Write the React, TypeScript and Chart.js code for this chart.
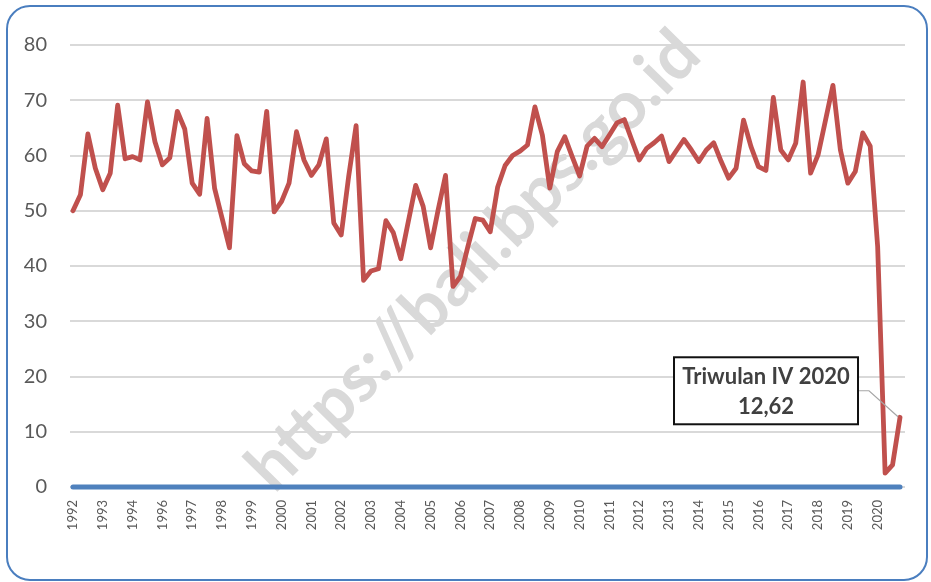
import React, { useEffect, useRef } from "react";
import { Chart, registerables } from "chart.js";

Chart.register(...registerables);

// Year labels shown under the first quarter of each year (1995 is not shown in the source)
const yearLabels = [
  "1992", "1993", "1994", "1996", "1997", "1998", "1999", "2000", "2001", "2002",
  "2003", "2004", "2005", "2006", "2007", "2008", "2009", "2010", "2011", "2012",
  "2013", "2014", "2015", "2016", "2017", "2018", "2019", "2020",
];

// Quarterly values (4 per labelled year)
const values1992to1999 = [
  50.0, 52.9, 63.9, 57.7, 53.8, 56.8, 69.1, 59.4, 59.8, 59.2, 69.7, 62.5, 58.3, 59.6,
  68.0, 64.8, 55.0, 53.0, 66.7, 54.1, 48.7, 43.3, 63.6, 58.5, 57.2, 57.0, 68.0, 49.8,
];
const values2000to2006 = [
  51.7, 55.0, 64.3, 59.2, 56.4, 58.3, 63.0, 47.8, 45.6, 56.2, 65.4, 37.4, 39.1, 39.5,
  48.2, 46.0, 41.3, 48.0, 54.6, 50.8, 43.3, 50.1, 56.4, 36.3, 38.1, 43.5, 48.6, 48.3,
];
const values2007to2013 = [
  46.2, 54.3, 58.2, 60.0, 60.8, 61.9, 68.8, 63.7, 54.1, 60.7, 63.4, 59.8, 56.3, 61.7,
  63.1, 61.6, 63.7, 65.9, 66.5, 62.8, 59.2, 61.3, 62.3, 63.5, 58.9, 60.9, 62.9, 61.0,
];
const values2014to2020 = [
  58.9, 61.0, 62.3, 58.9, 55.9, 57.7, 66.4, 61.6, 58.0, 57.3, 70.5, 61.0, 59.2, 62.2,
  73.3, 56.8, 60.1, 66.4, 72.7, 61.0, 55.0, 57.1, 64.1, 61.7, 43.5, 2.5, 4.0, 12.62,
];

const allValues = [
  ...values1992to1999,
  ...values2000to2006,
  ...values2007to2013,
  ...values2014to2020,
];

// Zero reference series (blue baseline)
const baselineValues = allValues.map(() => 0);

const yTicks = { min: 0, max: 80, step: 10 };
const calloutTitle = "Triwulan IV 2020";
const watermarkText = "https://bali.bps.go.id";

const FONT = "Lato, 'Liberation Sans', sans-serif";

export default function App() {
  const canvasRef = useRef<HTMLCanvasElement | null>(null);

  useEffect(() => {
    const canvas = canvasRef.current;
    if (!canvas) return;

    const watermarkPlugin = {
      id: "watermark",
      beforeDatasetsDraw(chart: any) {
        const { ctx, chartArea } = chart;
        const cx = (chartArea.left + chartArea.right) / 2 - 14;
        const cy = (chartArea.top + chartArea.bottom) / 2 - 5;
        ctx.save();
        ctx.translate(cx, cy);
        ctx.rotate((-45.5 * Math.PI) / 180);
        ctx.font = `bold 68px ${FONT}`;
        ctx.fillStyle = "#d9d9d9";
        ctx.textAlign = "center";
        ctx.textBaseline = "middle";
        ctx.fillText(watermarkText, 0, 0);
        ctx.restore();
      },
    };

    const calloutPlugin = {
      id: "callout",
      afterDatasetsDraw(chart: any) {
        const { ctx } = chart;
        const xs = chart.scales.x;
        const ys = chart.scales.y;
        const last = allValues.length - 1;
        const px = xs.getPixelForValue(last);
        const py = ys.getPixelForValue(allValues[last]);
        const boxW = 184;
        const boxH = 67;
        const boxRight = px - 42;
        const boxLeft = boxRight - boxW;
        const boxTop = py - 60;
        const midY = boxTop + 33.5;

        ctx.save();
        ctx.strokeStyle = "#a6a6a6";
        ctx.lineWidth = 1.2;
        ctx.beginPath();
        ctx.moveTo(boxRight, midY);
        ctx.lineTo(boxRight + 11, midY);
        ctx.lineTo(px - 2, py - 0.5);
        ctx.stroke();

        ctx.fillStyle = "#ffffff";
        ctx.fillRect(boxLeft, boxTop, boxW, boxH);
        ctx.strokeStyle = "#111111";
        ctx.lineWidth = 2;
        ctx.strokeRect(boxLeft, boxTop, boxW, boxH);

        ctx.fillStyle = "#404040";
        ctx.font = `bold 22px ${FONT}`;
        ctx.textAlign = "center";
        ctx.textBaseline = "middle";
        const cx = boxLeft + boxW / 2;
        ctx.fillText(calloutTitle, cx, boxTop + 20);
        ctx.fillText(allValues[last].toFixed(2).replace(".", ","), cx, boxTop + 50);
        ctx.restore();
      },
    };

    const chart = new Chart(canvas, {
      type: "line",
      data: {
        datasets: [
          {
            data: allValues.map((v, i) => ({ x: i, y: v })),
            borderColor: "#c0504d",
            backgroundColor: "#c0504d",
            borderWidth: 4.8,
            pointRadius: 0,
            tension: 0,
            fill: false,
            borderJoinStyle: "round",
            borderCapStyle: "round",
          },
          {
            data: baselineValues.map((v, i) => ({ x: i, y: v })),
            borderColor: "#4f81bd",
            backgroundColor: "#4f81bd",
            borderWidth: 5,
            pointRadius: 0,
            tension: 0,
            fill: false,
            borderCapStyle: "round",
            clip: false,
          },
        ],
      },
      options: {
        responsive: false,
        animation: false,
        devicePixelRatio: 1,
        layout: { padding: { left: 0, right: 26, top: 45, bottom: 0 } },
        plugins: {
          legend: { display: false },
          tooltip: { enabled: false },
        },
        scales: {
          x: {
            type: "linear",
            min: -0.4,
            max: 111.67,
            grid: { display: false, drawTicks: false },
            border: { display: false },
            afterBuildTicks: (s: any) => {
              s.ticks = yearLabels.map((_, k) => ({ value: k * 4 }));
            },
            afterFit: (s: any) => {
              s.height = 95;
            },
            ticks: {
              autoSkip: false,
              minRotation: 90,
              maxRotation: 90,
              padding: 13,
              color: "#595959",
              font: { size: 13, family: FONT },
              callback: (_v: any, index: number) => yearLabels[index] ?? "",
            },
          },
          y: {
            min: yTicks.min,
            max: yTicks.max,
            afterFit: (s: any) => {
              s.width = 70;
            },
            ticks: {
              stepSize: yTicks.step,
              padding: 23,
              color: "#595959",
              font: { size: 20, family: FONT },
            },
            grid: {
              color: "#d9d9d9",
              lineWidth: 2,
              drawTicks: false,
            },
            border: { display: false },
          },
        },
      },
      plugins: [watermarkPlugin, calloutPlugin],
    } as any);

    return () => chart.destroy();
  }, []);

  return (
    <div
      style={{
        position: "absolute",
        left: 0,
        top: 0,
        width: 931,
        height: 582,
        background: "#ffffff",
        overflow: "hidden",
      }}
    >
      <canvas
        ref={canvasRef}
        width={931}
        height={582}
        style={{ position: "absolute", left: 0, top: 0, width: 931, height: 582 }}
      />
      <div
        style={{
          position: "absolute",
          left: 6,
          top: 5,
          width: 922,
          height: 576,
          boxSizing: "border-box",
          border: "2px solid #4a7ebf",
          borderRadius: 24,
          pointerEvents: "none",
        }}
      />
    </div>
  );
}
